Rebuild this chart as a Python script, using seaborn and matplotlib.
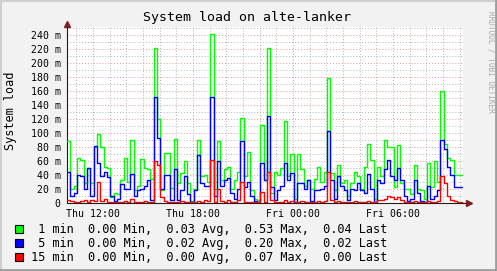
import numpy as np
import pandas as pd
import matplotlib
matplotlib.use("Agg")
import matplotlib.pyplot as plt
import seaborn as sns
from matplotlib.lines import Line2D
from matplotlib.patches import Rectangle
from matplotlib.ticker import FixedLocator, MultipleLocator

# ---- data (system load in milli-units, 12-minute steps) ----
start_hour = 10.44          # hours since Thu 00:00
step_hours = 0.2

load_1min = [88, 20, 25, 65, 62, 28, 50, 28, 80, 98,
             80, 52, 50, 8, 15, 13, 33, 65, 30, 90,
             18, 25, 63, 50, 48, 35, 222, 120, 18, 72,
             72, 22, 92, 28, 43, 60, 28, 3, 20, 90,
             38, 40, 30, 242, 20, 88, 33, 48, 52, 20,
             33, 45, 122, 38, 73, 18, 6, 5, 112, 33,
             222, 14, 45, 40, 50, 117, 38, 70, 6, 70,
             48, 25, 33, 20, 35, 52, 30, 45, 178, 43,
             18, 55, 28, 33, 10, 28, 45, 38, 20, 52,
             85, 62, 6, 52, 38, 90, 80, 80, 23, 83,
             28, 20, 20, 13, 55, 20, 18, 6, 57, 23,
             60, 30, 160, 85, 65, 62, 40, 40, 40]
load_5min = [45, 10, 15, 40, 38, 20, 50, 10, 82, 57,
             38, 45, 37, 10, 3, 6, 27, 20, 20, 42,
             10, 18, 20, 25, 33, 5, 152, 93, 20, 40,
             40, 5, 48, 5, 18, 38, 13, 2, 18, 68,
             28, 25, 25, 152, 10, 60, 25, 33, 36, 15,
             6, 20, 88, 23, 30, 10, 3, 2, 57, 33,
             124, 23, 5, 18, 25, 57, 33, 43, 2, 28,
             28, 20, 33, 3, 18, 18, 20, 25, 103, 33,
             6, 38, 25, 18, 5, 20, 18, 28, 18, 15,
             42, 20, 2, 33, 28, 48, 62, 38, 33, 50,
             33, 10, 3, 6, 33, 15, 3, 2, 25, 6,
             10, 18, 90, 77, 52, 40, 23, 23, 23]
load_15min = [5, 3, 2, 2, 3, 5, 2, 5, 3, 30,
              3, 6, 2, 2, 1, 2, 2, 3, 2, 6,
              2, 2, 2, 3, 2, 2, 60, 55, 8, 3,
              2, 2, 2, 2, 3, 2, 2, 1, 2, 3,
              2, 4, 3, 61, 2, 20, 3, 2, 5, 2,
              2, 5, 30, 2, 2, 1, 1, 1, 16, 2,
              45, 5, 2, 2, 2, 5, 2, 3, 1, 2,
              3, 2, 2, 1, 2, 3, 2, 3, 45, 4,
              2, 3, 2, 2, 1, 2, 3, 2, 2, 2,
              3, 2, 1, 4, 5, 6, 10, 8, 6, 8,
              4, 2, 1, 1, 3, 2, 1, 1, 3, 2,
              2, 3, 38, 28, 10, 5, 3, 2, 2]

series_names = ["1 min", "5 min", "15 min"]
series_colors = ["#00FF00", "#0000FF", "#FF0000"]
legend_stats = [("0.00", "0.03", "0.53", "0.04"),
                ("0.00", "0.02", "0.20", "0.02"),
                ("0.00", "0.00", "0.07", "0.00")]

x_tick_hours = [12, 15, 18, 21, 24, 27, 30, 33]
x_tick_labels = ["Thu 12:00", "", "Thu 18:00", "", "Fri 00:00", "", "Fri 06:00", ""]
y_ticks = list(range(0, 241, 20))

# ---- build table ----
n = len(load_1min)
hours = start_hour + step_hours * np.arange(n + 1)
frames = []
for name, vals in zip(series_names, [load_1min, load_5min, load_15min]):
    v = list(vals) + [vals[-1]]
    frames.append(pd.DataFrame({"hour": hours, "load": v, "series": name}))
df = pd.concat(frames, ignore_index=True)

# ---- figure ----
sns.set_theme(style="white")
plt.rcParams["font.family"] = ["DejaVu Sans Mono"]

W, H = 497, 271
fig = plt.figure(figsize=(W / 100, H / 100), dpi=100, facecolor="#F2F2F2")
L, R, T, B = 67, 463, 27, 203
ax = fig.add_axes([L / W, 1 - B / H, (R - L) / W, (B - T) / H])
ax.set_facecolor("white")

for name, col in zip(series_names, series_colors):
    sub = df[df["series"] == name]
    sns.lineplot(data=sub, x="hour", y="load", ax=ax, color=col,
                 drawstyle="steps-post", estimator=None, sort=False,
                 linewidth=1.0, legend=False, zorder=3)

x_end = start_hour + (R - L) / 16.667
ax.set_xlim(start_hour, x_end)
ax.set_ylim(0, 240 * (B - T) / 168.0)

ax.xaxis.set_major_locator(FixedLocator(x_tick_hours))
ax.set_xticklabels(x_tick_labels)
ax.xaxis.set_minor_locator(MultipleLocator(1))
ax.yaxis.set_major_locator(FixedLocator(y_ticks))
ax.set_yticklabels(["0"] + [f"{v} m" for v in y_ticks[1:]])
ax.yaxis.set_minor_locator(MultipleLocator(10))

ax.grid(which="minor", color="#B4B4B4", linestyle=(0, (1, 2)), linewidth=0.7, zorder=1)
ax.grid(which="major", color="#EB9696", linestyle=(0, (1, 2)), linewidth=0.7, zorder=1)
ax.set_axisbelow(True)

ax.tick_params(axis="both", which="major", direction="inout", length=3, width=0.7,
               color="#1F1F1F", labelsize=7.1, labelcolor="black", pad=3)
ax.tick_params(axis="both", which="minor", direction="inout", length=2, width=0.6,
               color="#1F1F1F")
ax.tick_params(axis="x", which="major", pad=3)

for s in ["top", "right"]:
    ax.spines[s].set_visible(False)
for s in ["left", "bottom"]:
    ax.spines[s].set_color("#1F1F1F")
    ax.spines[s].set_linewidth(0.8)

ax.set_xlabel("")
ax.set_ylabel("")

# axis extensions and arrows
ax.plot([1.0, 1.014], [0, 0], transform=ax.transAxes, color="#1F1F1F", lw=0.8, clip_on=False)
ax.plot([0, 0], [1.0, 1.015], transform=ax.transAxes, color="#1F1F1F", lw=0.8, clip_on=False)
ax.plot([1.014], [0], transform=ax.transAxes, marker=">", color="#801F1F", ms=4, clip_on=False)
ax.plot([0], [1.017], transform=ax.transAxes, marker="^", color="#801F1F", ms=4, clip_on=False)

# title / labels
fig.text((143 + 351) / 2 / W, 1 - 17 / H, "System load on alte-lanker",
         ha="center", va="center", fontsize=9.5, color="black")
fig.text(11 / W, 1 - 111 / H, "System load", rotation=90, ha="center", va="center",
         fontsize=8.6, color="black")
fig.text(491 / W, 1 - 62 / H, "RRDTOOL / TOBI OETIKER", rotation=270, ha="center",
         va="center", fontsize=5.6, color="#A8A8A8")

# legend
rows_y = [229, 243, 257]
for name, col, st, yy in zip(series_names, series_colors, legend_stats, rows_y):
    fig.add_artist(Rectangle((15 / W, 1 - (yy + 4) / H), 8 / W, 8 / H,
                             transform=fig.transFigure, facecolor=col,
                             edgecolor="black", linewidth=0.8))
    label = f"{name:>6}  {st[0]} Min,  {st[1]} Avg,  {st[2]} Max,  {st[3]} Last"
    fig.text(30.7 / W, 1 - yy / H, label, ha="left", va="center",
             fontsize=8.6, color="black")

# 3D frame
fig.add_artist(Line2D([0, 1], [1 - 0.5 / H, 1 - 0.5 / H], transform=fig.transFigure,
                      color="#CFCFCF", lw=1.5))
fig.add_artist(Line2D([0.5 / W, 0.5 / W], [0, 1], transform=fig.transFigure,
                      color="#CFCFCF", lw=1.5))
fig.add_artist(Line2D([0, 1], [1 / H, 1 / H], transform=fig.transFigure,
                      color="#9E9E9E", lw=2))
fig.add_artist(Line2D([1 - 1 / W, 1 - 1 / W], [0, 1], transform=fig.transFigure,
                      color="#9E9E9E", lw=2))

fig.savefig("out.png", dpi=100, facecolor=fig.get_facecolor())
